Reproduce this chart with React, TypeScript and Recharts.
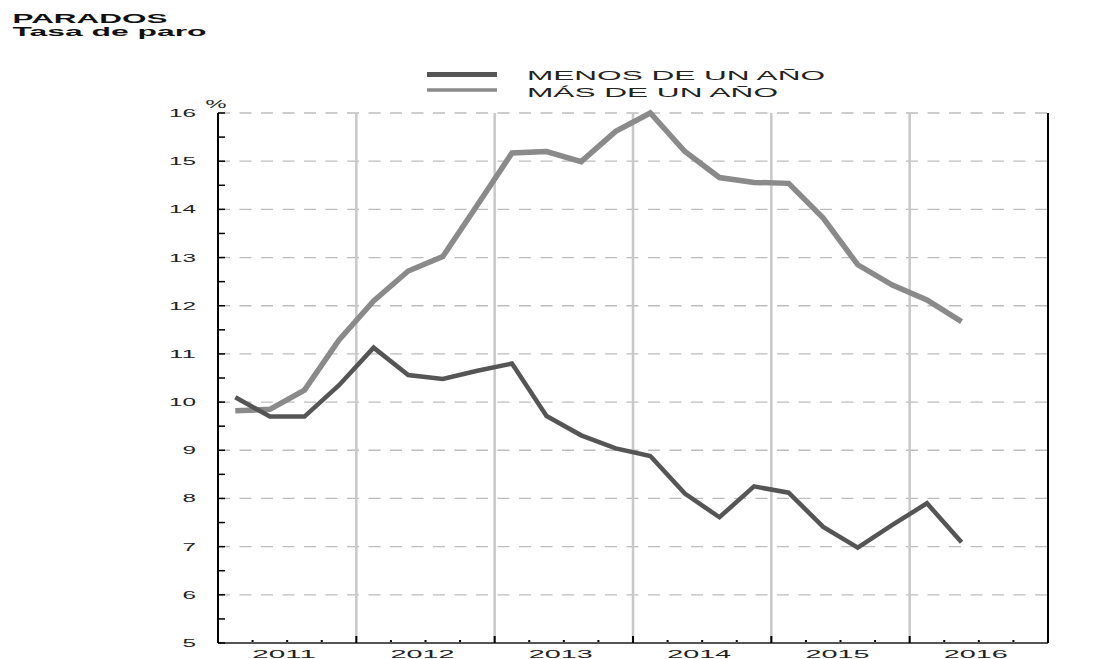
import { LineChart, Line, XAxis, YAxis, ReferenceLine } from 'recharts'

// trimestres 2011-T1 .. 2016-T2
const quarters = [
  '2011-T1', '2011-T2', '2011-T3', '2011-T4',
  '2012-T1', '2012-T2', '2012-T3', '2012-T4',
  '2013-T1', '2013-T2', '2013-T3', '2013-T4',
  '2014-T1', '2014-T2', '2014-T3', '2014-T4',
  '2015-T1', '2015-T2', '2015-T3', '2015-T4',
  '2016-T1', '2016-T2',
]

const menosDeUnAno = [
  10.1, 9.7, 9.7, 10.35,
  11.13, 10.56, 10.48, 10.65,
  10.8, 9.71, 9.31, 9.04,
  8.88, 8.1, 7.61, 8.25,
  8.12, 7.41, 6.98, 7.45,
  7.9, 7.09,
]

const masDeUnAno = [
  9.82, 9.85, 10.25, 11.29,
  12.1, 12.72, 13.02, 14.09,
  15.17, 15.2, 14.99, 15.62,
  16.0, 15.2, 14.66, 14.56,
  14.54, 13.82, 12.85, 12.43,
  12.12, 11.67,
]

const yearLabels = ['2011', '2012', '2013', '2014', '2015', '2016']
const yTicks = [5, 5.5, 6, 6.5, 7, 7.5, 8, 8.5, 9, 9.5, 10, 10.5, 11, 11.5, 12, 12.5, 13, 13.5, 14, 14.5, 15, 15.5, 16]
const gridValues = [6, 7, 8, 9, 10, 11, 12, 13, 14, 15, 16]
const yearBreaks = [4, 8, 12, 16, 20]
const quarterTicks = Array.from({ length: yearLabels.length * 4 + 1 }, (_, i) => i)

const data = quarters.map((q, i) => ({
  q,
  pos: i + 0.5,
  menos: menosDeUnAno[i],
  mas: masDeUnAno[i],
}))

const FONT = '"Liberation Sans", Arial, sans-serif'
const TEXT = '#222'

function LeftTick({ x, y, payload }: any) {
  const v = payload.value
  const txt = String(v)
  return (
    <g>
      <line x1={x} x2={x + 7} y1={y} y2={y} stroke="#000" strokeWidth={1.5} />
      {Number.isInteger(v) && (
        <text x={x - 22} y={y + 4} textAnchor="end" fontSize={11.5} fontFamily={FONT} fill={TEXT}
          textLength={txt.length * 13.5} lengthAdjust="spacingAndGlyphs">{txt}</text>
      )}
      {v === 16 && (
        <text x={x - 2} y={y - 5} textAnchor="middle" fontSize={11} fontFamily={FONT} fill={TEXT}
          textLength={21} lengthAdjust="spacingAndGlyphs">%</text>
      )}
    </g>
  )
}

function RightTick({ x, y, payload }: any) {
  const v = payload.value
  const txt = String(v)
  return (
    <g>
      <line x1={x - 8} x2={x} y1={y} y2={y} stroke="#000" strokeWidth={1.5} />
      {Number.isInteger(v) && (
        <text x={x + 20} y={y + 4} textAnchor="start" fontSize={11.5} fontFamily={FONT} fill={TEXT}
          textLength={txt.length * 14.5} lengthAdjust="spacingAndGlyphs">{txt}</text>
      )}
      {v === 16 && (
        <text x={x} y={y - 5} textAnchor="middle" fontSize={11} fontFamily={FONT} fill={TEXT}
          textLength={22} lengthAdjust="spacingAndGlyphs">%</text>
      )}
    </g>
  )
}

function QuarterTick({ x, y, payload }: any) {
  const v = payload.value
  const isYear = v % 4 === 0
  const label = v % 4 === 2 ? yearLabels[(v - 2) / 4] : null
  return (
    <g>
      {isYear ? (
        v > 0 && v < 24 && <line x1={x} x2={x} y1={y - 7} y2={y} stroke="#000" strokeWidth={2} />
      ) : (
        <rect x={x - 1} y={y - 3} width={2} height={2} fill="#000" />
      )}
      {label && (
        <text x={x - 3} y={y + 14.5} textAnchor="middle" fontSize={11.5} fontFamily={FONT} fill={TEXT}
          textLength={64} lengthAdjust="spacingAndGlyphs">{label}</text>
      )}
    </g>
  )
}

export default function App() {
  return (
    <div style={{ position: 'absolute', left: 0, top: 0, width: 1101, height: 659, background: '#fff' }}>
      <svg width={1101} height={110} style={{ position: 'absolute', left: 0, top: 0 }}>
        <text x={12.5} y={22.5} fontSize={12} fontWeight="bold" fontFamily={FONT} fill="#111"
          textLength={155} lengthAdjust="spacingAndGlyphs">PARADOS</text>
        <text x={12.5} y={35.5} fontSize={12} fontWeight="bold" fontFamily={FONT} fill="#111"
          textLength={194} lengthAdjust="spacingAndGlyphs">Tasa de paro</text>

        <line x1={427} x2={497} y1={74.5} y2={74.5} stroke="#555" strokeWidth={5} />
        <text x={527} y={80} fontSize={12} fontFamily={FONT} fill={TEXT}
          textLength={298} lengthAdjust="spacingAndGlyphs">MENOS DE UN AÑO</text>
        <line x1={427} x2={497} y1={90} y2={90} stroke="#8a8a8a" strokeWidth={3.7} />
        <text x={527} y={96.5} fontSize={12} fontFamily={FONT} fill={TEXT}
          textLength={251} lengthAdjust="spacingAndGlyphs">MÁS DE UN AÑO</text>
      </svg>

      <LineChart width={1101} height={659} data={data}
        margin={{ top: 113, right: 3, bottom: 0, left: 158 }}>
        <XAxis dataKey="pos" type="number" domain={[0, 24]} ticks={quarterTicks}
          height={16} tickSize={0} tickMargin={0} tickLine={false}
          axisLine={{ stroke: '#555', strokeWidth: 2 }} tick={<QuarterTick />} interval={0} />
        <YAxis yAxisId="left" orientation="left" domain={[5, 16]} ticks={yTicks} width={60}
          tickSize={0} tickMargin={0} tickLine={false} interval={0}
          axisLine={{ stroke: '#000', strokeWidth: 2 }} tick={<LeftTick />} />
        <YAxis yAxisId="right" orientation="right" domain={[5, 16]} ticks={yTicks} width={50}
          tickSize={0} tickMargin={0} tickLine={false} interval={0}
          axisLine={{ stroke: '#000', strokeWidth: 2 }} tick={<RightTick />} />

        {gridValues.map(v => (
          <ReferenceLine key={'h' + v} yAxisId="left" y={v} stroke="#bdbdbd" strokeWidth={1.3} strokeDasharray="12 9.5" />
        ))}
        {yearBreaks.map(v => (
          <ReferenceLine key={'v' + v} yAxisId="left" x={v} stroke="#c8c8c8" strokeWidth={2.5} />
        ))}

        <Line yAxisId="left" type="linear" dataKey="mas" stroke="#8a8a8a" strokeWidth={5.5}
          dot={false} isAnimationActive={false} name="MÁS DE UN AÑO" />
        <Line yAxisId="left" type="linear" dataKey="menos" stroke="#555" strokeWidth={4.5}
          dot={false} isAnimationActive={false} name="MENOS DE UN AÑO" />
      </LineChart>
    </div>
  )
}
